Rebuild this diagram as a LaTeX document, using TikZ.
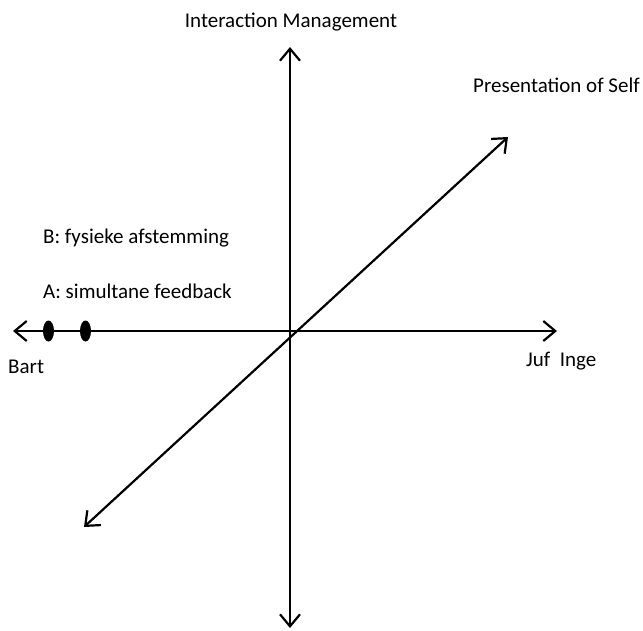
\documentclass[tikz,border=0pt]{standalone}
\usepackage{fontspec}
\setmainfont{Carlito}
\usetikzlibrary{arrows.meta,shapes.geometric}
\begin{document}
\begin{tikzpicture}[x=1pt,y=-1pt,
  axis/.style={line width=2.2pt,{Straight Barb[length=12pt,width=20pt,line width=2.2pt]}-{Straight Barb[length=12pt,width=20pt,line width=2.2pt]}},
  lbl/.style={inner sep=0pt,font=\fontsize{21}{25}\selectfont},
  marker/.style={ellipse,fill=black,inner sep=0pt,minimum width=11pt,minimum height=21pt}]
  \useasboundingbox (0,0) rectangle (643,630);
  % axis end points
  \coordinate (left) at (13,331);
  \coordinate (right) at (557,331);
  \coordinate (top) at (290,47);
  \coordinate (bottom) at (290,628);
  \coordinate (dlow) at (84,527);
  \coordinate (dhigh) at (508,137);
  % axes
  \draw[axis] (left) -- (right);
  \draw[axis] (bottom) -- (top);
  \draw[axis] (dlow) -- (dhigh);
  % markers on the horizontal axis
  \node[marker] (mB) at (48.5,331) {};
  \node[marker] (mA) at (85.5,331) {};
  % labels
  \node[lbl,anchor=base] (im) at (291,27) {Interaction Management};
  \node[lbl,anchor=base west] (ps) at (473,92) {Presentation of Self};
  \node[lbl,anchor=base west] (juf) at (526,366) {Juf\ \ Inge};
  \node[lbl,anchor=base west] (bart) at (8,373) {Bart};
  \node[lbl,anchor=base west] (lb) at (43,243) {B: fysieke afstemming};
  \node[lbl,anchor=base west] (la) at (43,298) {A: simultane feedback};
\end{tikzpicture}
\end{document}
